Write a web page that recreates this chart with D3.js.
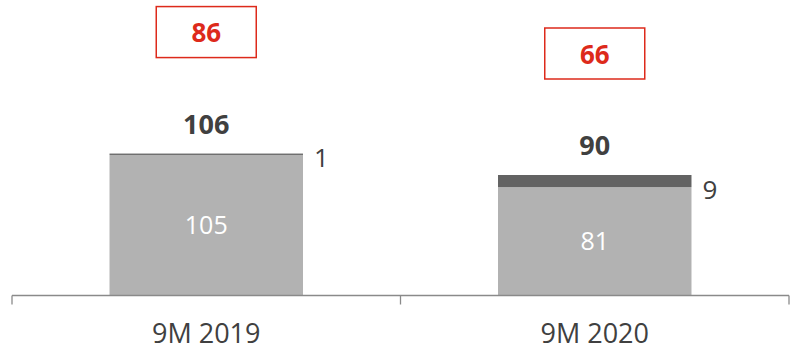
<!DOCTYPE html>
<html>
<head>
<meta charset="utf-8">
<script src="https://cdn.jsdelivr.net/npm/d3@7"></script>
<style>
  html, body { margin: 0; padding: 0; background: #fff; }
  svg { display: block; font-family: "Open Sans", "Noto Sans", sans-serif; }
</style>
</head>
<body>
<svg id="chart" width="790" height="350"></svg>
<script>
// Period labels and stacked components
const categories = ["9M 2019", "9M 2020"];
const baseValues = [105, 81];   // lower (light grey) segment
const topValues = [1, 9];       // upper (dark grey) segment
const totals = [106, 90];       // stack totals shown above bars
const boxedValues = [86, 66];   // highlighted figures in red boxes

const W = 790, H = 350;
const baselineY = 295.5;

const svg = d3.select("#chart");

const x = d3.scaleBand()
  .domain(categories)
  .range([12, 789])
  .paddingInner(0)
  .paddingOuter(0);

const y = d3.scaleLinear()
  .domain([0, 90])
  .range([baselineY, 175]);

const barW = x.bandwidth() * 0.498;
const cx = c => x(c) + x.bandwidth() / 2;

const rows = categories.map((c, i) => ({
  cat: c, base: baseValues[i], top: topValues[i], total: totals[i], boxed: boxedValues[i]
}));

// Light grey lower segment
svg.selectAll("rect.base").data(rows).join("rect")
  .attr("class", "base")
  .attr("x", d => cx(d.cat) - barW / 2)
  .attr("width", barW)
  .attr("y", d => y(d.base))
  .attr("height", d => y(0) - y(d.base))
  .attr("fill", "#b2b2b2");

// Dark grey upper segment
svg.selectAll("rect.top").data(rows).join("rect")
  .attr("class", "top")
  .attr("x", d => cx(d.cat) - barW / 2)
  .attr("width", barW)
  .attr("y", d => y(d.base + d.top))
  .attr("height", d => y(d.base) - y(d.base + d.top))
  .attr("fill", "#636363");

// Category axis with ticks at band boundaries
const axisG = svg.append("g");
axisG.append("line")
  .attr("x1", x.range()[0]).attr("x2", x.range()[1])
  .attr("y1", baselineY).attr("y2", baselineY)
  .attr("stroke", "#8a8a8a").attr("stroke-width", 1.3);
const tickXs = categories.map(c => x(c)).concat([x.range()[1]]);
axisG.selectAll("line.tick").data(tickXs).join("line")
  .attr("class", "tick")
  .attr("x1", d => d).attr("x2", d => d)
  .attr("y1", baselineY).attr("y2", baselineY + 9)
  .attr("stroke", "#8a8a8a").attr("stroke-width", 1.3);

axisG.selectAll("text.cat").data(categories).join("text")
  .attr("class", "cat")
  .attr("x", d => cx(d))
  .attr("y", 343)
  .attr("text-anchor", "middle")
  .attr("font-size", 27)
  .attr("fill", "#404040")
  .text(d => d);

// Value inside the lower segment
svg.selectAll("text.baseLbl").data(rows).join("text")
  .attr("class", "baseLbl")
  .attr("x", d => cx(d.cat))
  .attr("y", d => (y(d.base) + y(0)) / 2 + 2)
  .attr("text-anchor", "middle")
  .attr("dominant-baseline", "middle")
  .attr("font-size", 25)
  .attr("fill", "#ffffff")
  .text(d => d.base);

// Value of the upper segment, to the right of the bar
svg.selectAll("text.topLbl").data(rows).join("text")
  .attr("class", "topLbl")
  .attr("x", d => cx(d.cat) + barW / 2 + 11)
  .attr("y", d => y(d.base) + 5)
  .attr("dominant-baseline", "middle")
  .attr("font-size", 26)
  .attr("fill", "#404040")
  .text(d => d.top);

// Total above the stack
svg.selectAll("text.total").data(rows).join("text")
  .attr("class", "total")
  .attr("x", d => cx(d.cat))
  .attr("y", d => y(d.total) - 20)
  .attr("text-anchor", "middle")
  .attr("font-size", 27)
  .attr("font-weight", "bold")
  .attr("fill", "#404040")
  .text(d => d.total);

// Red boxed figure
const boxW = 100, boxH = 51;
const boxG = svg.selectAll("g.box").data(rows).join("g")
  .attr("class", "box")
  .attr("transform", d => `translate(${cx(d.cat)},${y(d.total) - 96 - boxH / 2})`);
boxG.append("rect")
  .attr("x", -boxW / 2).attr("y", -boxH / 2)
  .attr("width", boxW).attr("height", boxH)
  .attr("fill", "none")
  .attr("stroke", "#dd2a1b")
  .attr("stroke-width", 1.5);
boxG.append("text")
  .attr("text-anchor", "middle")
  .attr("dominant-baseline", "central")
  .attr("y", 0)
  .attr("font-size", 26)
  .attr("font-weight", "bold")
  .attr("fill", "#dd2a1b")
  .text(d => d.boxed);
</script>
</body>
</html>
